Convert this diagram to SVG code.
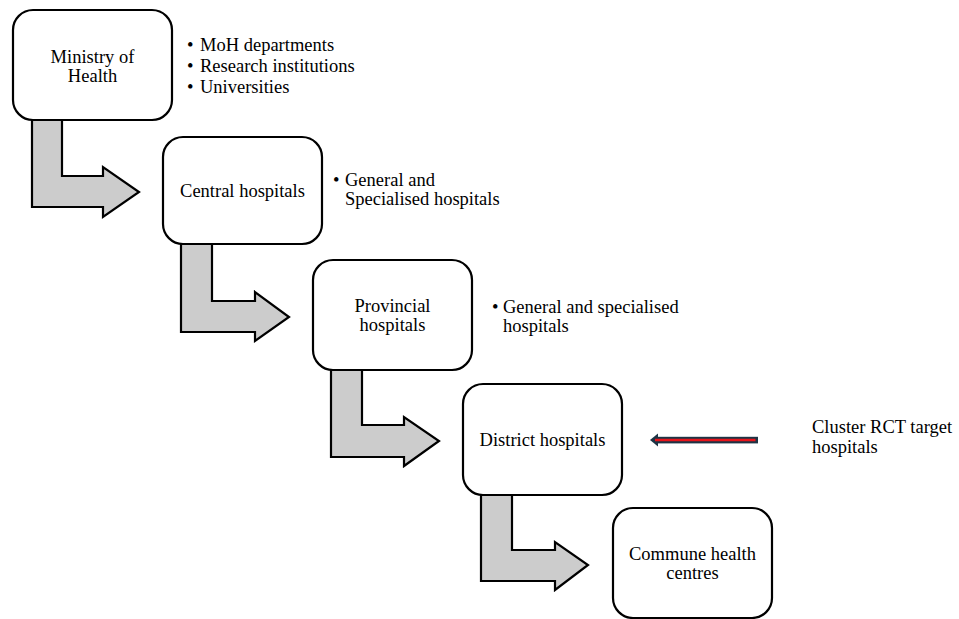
<svg xmlns="http://www.w3.org/2000/svg" width="959" height="619" viewBox="0 0 959 619">
  <style>
    .box { fill: #ffffff; stroke: #000000; stroke-width: 2.2; }
    .bend { fill: #cccccc; stroke: #000000; stroke-width: 2.2; stroke-linejoin: miter; }
    .t { font-family: "Liberation Serif", "Times New Roman", serif; font-size: 18.5px; fill: #000000; }
    .c { text-anchor: middle; }
  </style>
  <rect width="959" height="619" fill="#ffffff"/>

  <!-- bent block arrows between levels -->
  <g id="connectors">
    <polygon class="bend" points="32,120 62,120 62,176 103,176 103,167 139,192 103,217 103,207 32,207"/>
    <polygon class="bend" points="181,244 212,244 212,301 255,301 255,292 289,317 255,341 255,332 181,332"/>
    <polygon class="bend" points="331,370 362,370 362,425 404,425 404,417 439,441 404,466 404,457 331,457"/>
    <polygon class="bend" points="481,495 512,495 512,550 555,550 555,542 588,565 555,590 555,581 481,581"/>
    <!-- pointer to the district level -->
    <g id="target-pointer">
      <rect x="655" y="436.8" width="103" height="6.6" fill="#1d3445"/>
      <polygon points="650,440 658,433.5 658,446.5" fill="#1d3445"/>
      <line x1="655" y1="440" x2="755.5" y2="440" stroke="#e8141b" stroke-width="2.6"/>
    </g>
  </g>

  <g id="ministry">
    <rect class="box" x="13" y="10" width="159" height="110" rx="20"/>
    <text class="t c" x="92.5" y="63">Ministry of</text>
    <text class="t c" x="92.5" y="82">Health</text>
  </g>
  <g id="ministry-notes">
    <text class="t" x="187" y="51">•</text><text class="t" x="200" y="51">MoH departments</text>
    <text class="t" x="187" y="72">•</text><text class="t" x="200" y="72">Research institutions</text>
    <text class="t" x="187" y="93">•</text><text class="t" x="200" y="93">Universities</text>
  </g>

  <g id="central">
    <rect class="box" x="163" y="137" width="159" height="107" rx="20"/>
    <text class="t c" x="242.5" y="197">Central hospitals</text>
  </g>
  <g id="central-notes">
    <text class="t" x="333" y="186">•</text><text class="t" x="345" y="186">General and</text>
    <text class="t" x="345" y="205">Specialised hospitals</text>
  </g>

  <g id="provincial">
    <rect class="box" x="313" y="260" width="159" height="110" rx="20"/>
    <text class="t c" x="392.5" y="312">Provincial</text>
    <text class="t c" x="392.5" y="331">hospitals</text>
  </g>
  <g id="provincial-notes">
    <text class="t" x="492" y="313">•</text><text class="t" x="503" y="313">General and specialised</text>
    <text class="t" x="503" y="332">hospitals</text>
  </g>

  <g id="district">
    <rect class="box" x="463" y="384" width="159" height="111" rx="20"/>
    <text class="t c" x="542.5" y="446">District hospitals</text>
  </g>

  <g id="commune">
    <rect class="box" x="613" y="508" width="159" height="110" rx="20"/>
    <text class="t c" x="692.5" y="560">Commune health</text>
    <text class="t c" x="692.5" y="579">centres</text>
  </g>

  <g id="cluster-label">
    <text class="t" x="812" y="433">Cluster RCT target</text>
    <text class="t" x="812" y="453">hospitals</text>
  </g>
</svg>
